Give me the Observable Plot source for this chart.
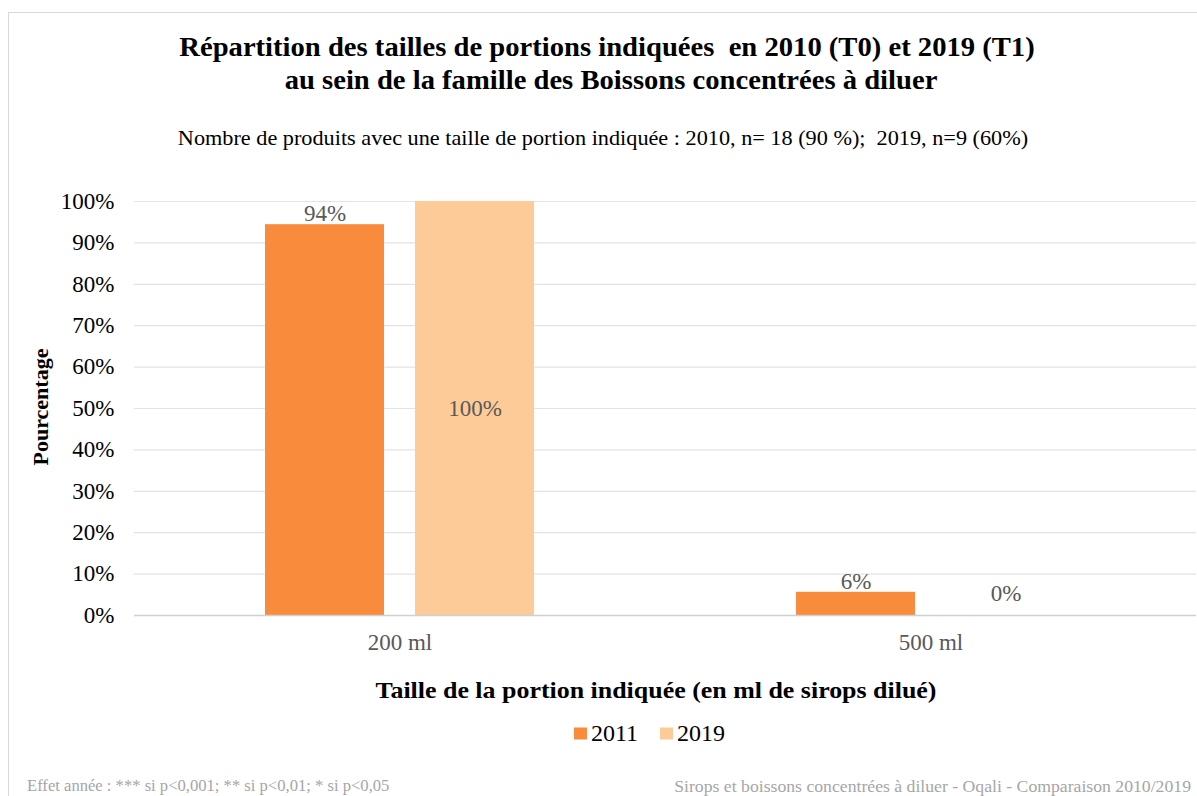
<!DOCTYPE html>
<html>
<head>
<meta charset="utf-8">
<script src="https://cdn.jsdelivr.net/npm/d3@7"></script>
<script src="https://cdn.jsdelivr.net/npm/@observablehq/plot@0.6"></script>
<style>
  html, body { margin: 0; padding: 0; background: #fff; }
  body { width: 1197px; height: 796px; position: relative; overflow: hidden; font-family: "Liberation Serif", serif; }
  .frame { position: absolute; left: 8px; top: 12px; width: 1300px; height: 900px; border-left: 1px solid #d9d9d9; border-top: 1px solid #d9d9d9; }
  .c { position: absolute; transform: translate(-50%, -50%) scaleX(1.08); white-space: pre; }
  #chart { position: absolute; left: 0; top: 170px; }
  .legend { position: absolute; top: 733px; left: 574px; transform: translateY(-50%); display: flex; align-items: center; font-size: 24px; color: #000; }
  .sw { display: inline-block; width: 13px; height: 12px; margin-right: 4px; }
  .foot { position: absolute; top: 786px; transform: translateY(-50%); color: #a6a6a6; white-space: pre; }
</style>
</head>
<body>
<div class="frame"></div>
<div class="c" style="left:607px;top:47px;font-size:26.5px;font-weight:bold;">Répartition des tailles de portions indiquées  en 2010 (T0) et 2019 (T1)</div>
<div class="c" style="left:611px;top:80px;font-size:26.5px;font-weight:bold;">au sein de la famille des Boissons concentrées à diluer</div>
<div class="c" style="left:603px;top:138px;font-size:20.6px;">Nombre de produits avec une taille de portion indiquée : 2010, n= 18 (90 %);  2019, n=9 (60%)</div>
<div class="c" style="left:41px;top:407px;font-size:22px;font-weight:bold;transform:translate(-50%,-50%) rotate(-90deg);">Pourcentage</div>
<div id="chart"></div>
<div class="c" style="left:656px;top:690px;font-size:24px;font-weight:bold;">Taille de la portion indiquée (en ml de sirops dilué)</div>
<div class="legend" id="legend"></div>
<div class="foot" style="left:27px;font-size:16.6px;">Effet année : *** si p&lt;0,001; ** si p&lt;0,01; * si p&lt;0,05</div>
<div class="foot" style="right:6px;font-size:17.7px;">Sirops et boissons concentrées à diluer - Oqali - Comparaison 2010/2019</div>
<script>
const categories = ["200 ml", "500 ml"];
const years = ["2011", "2019"];
const values2011 = [94.4, 5.6];
const values2019 = [100, 0];
const labels2011 = ["94%", "6%"];
const labels2019 = ["100%", "0%"];
const yTicks = [0, 10, 20, 30, 40, 50, 60, 70, 80, 90, 100];
const colors = ["#F88B3C", "#FDCB98"];

const data = [];
categories.forEach((c, i) => {
  data.push({cat: c, year: years[0], value: values2011[i], label: labels2011[i]});
  data.push({cat: c, year: years[1], value: values2019[i], label: labels2019[i]});
});

const outside = data.filter(d => d.value > 0 && d.value < 100);
const centered = data.filter(d => d.value >= 100);
const zero = data.filter(d => d.value === 0);

const chart = Plot.plot({
  width: 1197,
  height: 500,
  marginLeft: 134,
  marginRight: 1,
  marginTop: 31,
  marginBottom: 55,
  style: {fontFamily: "Liberation Serif", fontSize: "23px", background: "transparent", overflow: "visible"},
  fx: {domain: categories, padding: 0, label: null, axis: null},
  x: {domain: years, paddingInner: 0.205, paddingOuter: 0.864, axis: null},
  y: {domain: [0, 100], label: null},
  color: {domain: years, range: colors},
  marks: [
    Plot.ruleY(yTicks.filter(t => t > 0), {stroke: "#e3e3e3", strokeWidth: 1.2}),
    Plot.barY(data, {fx: "cat", x: "year", y: "value", fill: "year"}),
    Plot.ruleY([0], {stroke: "#d0d0d0", strokeWidth: 1.5}),
    Plot.text(outside, {fx: "cat", x: "year", y: "value", text: "label", dy: -11, fill: "#595959", fontSize: 23}),
    Plot.text(centered, {fx: "cat", x: "year", y: d => d.value / 2, text: "label", fill: "#595959", fontSize: 23}),
    Plot.text(zero, {fx: "cat", x: "year", y: "value", text: "label", dy: -22, fill: "#595959", fontSize: 23}),
    Plot.axisY(yTicks, {tickSize: 0, tickPadding: 20, tickFormat: d => d + "%", label: null, fill: "#000", fontSize: 23}),
    Plot.axisFx({anchor: "bottom", tickSize: 0, tickPadding: 18, label: null, fill: "#595959", fontSize: 23})
  ]
});
document.getElementById("chart").appendChild(chart);

const legend = document.getElementById("legend");
years.forEach((y, i) => {
  const item = document.createElement("span");
  item.style.display = "inline-flex";
  item.style.alignItems = "center";
  item.style.marginRight = i === 0 ? "22px" : "0";
  const sw = document.createElement("span");
  sw.className = "sw";
  sw.style.background = colors[i];
  item.appendChild(sw);
  item.appendChild(document.createTextNode(y));
  legend.appendChild(item);
});
</script>
</body>
</html>
